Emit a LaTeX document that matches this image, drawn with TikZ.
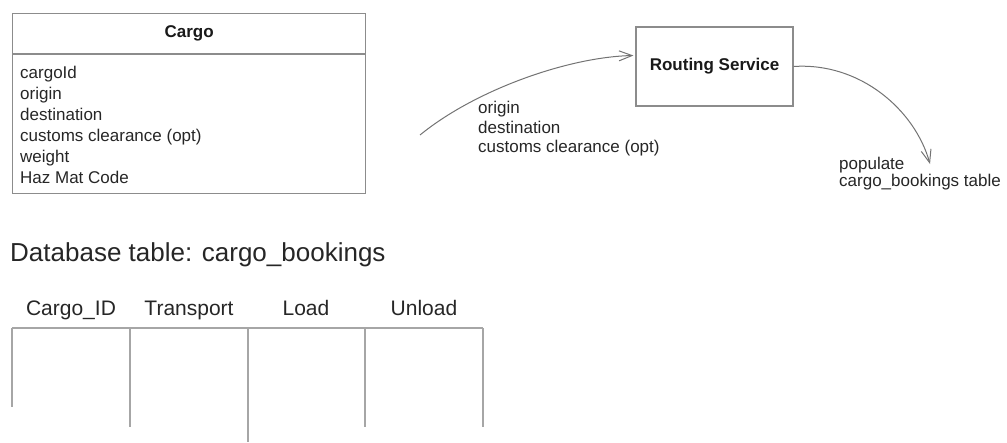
\documentclass[tikz,border=0pt]{standalone}
\usepackage{fontspec}
\setmainfont{Liberation Sans}
\usetikzlibrary{arrows.meta}

\tikzset{
  umlbox/.style={draw=black!45, line width=1.2pt, inner sep=0pt, text=black!90, font=\fontsize{17}{21}\selectfont\bfseries},
  note/.style={anchor=base west, inner sep=0pt, text=black!85, font=\fontsize{17}{21}\selectfont},
  colhead/.style={anchor=base, inner sep=0pt, text=black!85, font=\fontsize{21}{25}\selectfont},
  flow/.style={draw=black!55, line width=1pt, ->},
  tabline/.style={draw=black!35, line width=1.4pt},
}

\begin{document}
\begin{tikzpicture}[x=1pt, y=-1pt, >={Straight Barb[length=13pt,width=10pt]}]
\useasboundingbox (0,0) rectangle (1007,442);

% class box
\node[umlbox, minimum width=353pt, minimum height=40pt, anchor=north west] (cargo) at (12,13) {Cargo};
\node[umlbox, minimum width=353pt, minimum height=139pt, anchor=north west] (cargoattr) at (cargo.south west) {};
\foreach \t [count=\i] in {cargoId, origin, destination, customs clearance (opt), weight, Haz Mat Code}
  \node[note] (attr\i) at (20, 57+21*\i) {\t};

% service and flows
\node[umlbox, minimum width=157pt, minimum height=79pt] (routing) at (714.5,66.5) {Routing Service};

\coordinate (src) at (420,135);
\draw[flow] (src) .. controls (475,90) and (568,57) .. ([xshift=-2pt,yshift=11pt]routing.west);
\foreach \t [count=\i] in {origin, destination, customs clearance (opt)}
  \node[note] (inlbl\i) at (478, 94+19.5*\i) {\t};

\coordinate (sink) at (930,164);
\draw[flow] (routing.east) .. controls (860,62) and (915,110) .. (sink);
\node[note] (pop1) at (839,169) {populate};
\node[note] (pop2) at (839,186) {cargo\_bookings table};

% database table
\node[anchor=base west, inner sep=0pt, text=black!85, font=\fontsize{26}{30}\selectfont] (dbtitle) at (10,261) {Database table: cargo\_bookings};
\foreach \t/\x [count=\i] in {Cargo\_ID/71, Transport/189, Load/306, Unload/424}
  \node[colhead] (hdr\i) at (\x,315) {\t};

\draw[tabline] (12,328) -- (483,328);
\foreach \x/\y in {12/407, 130/427, 248/442, 365/427, 483/427}
  \draw[tabline] (\x,328) -- (\x,\y);
\end{tikzpicture}
\end{document}
